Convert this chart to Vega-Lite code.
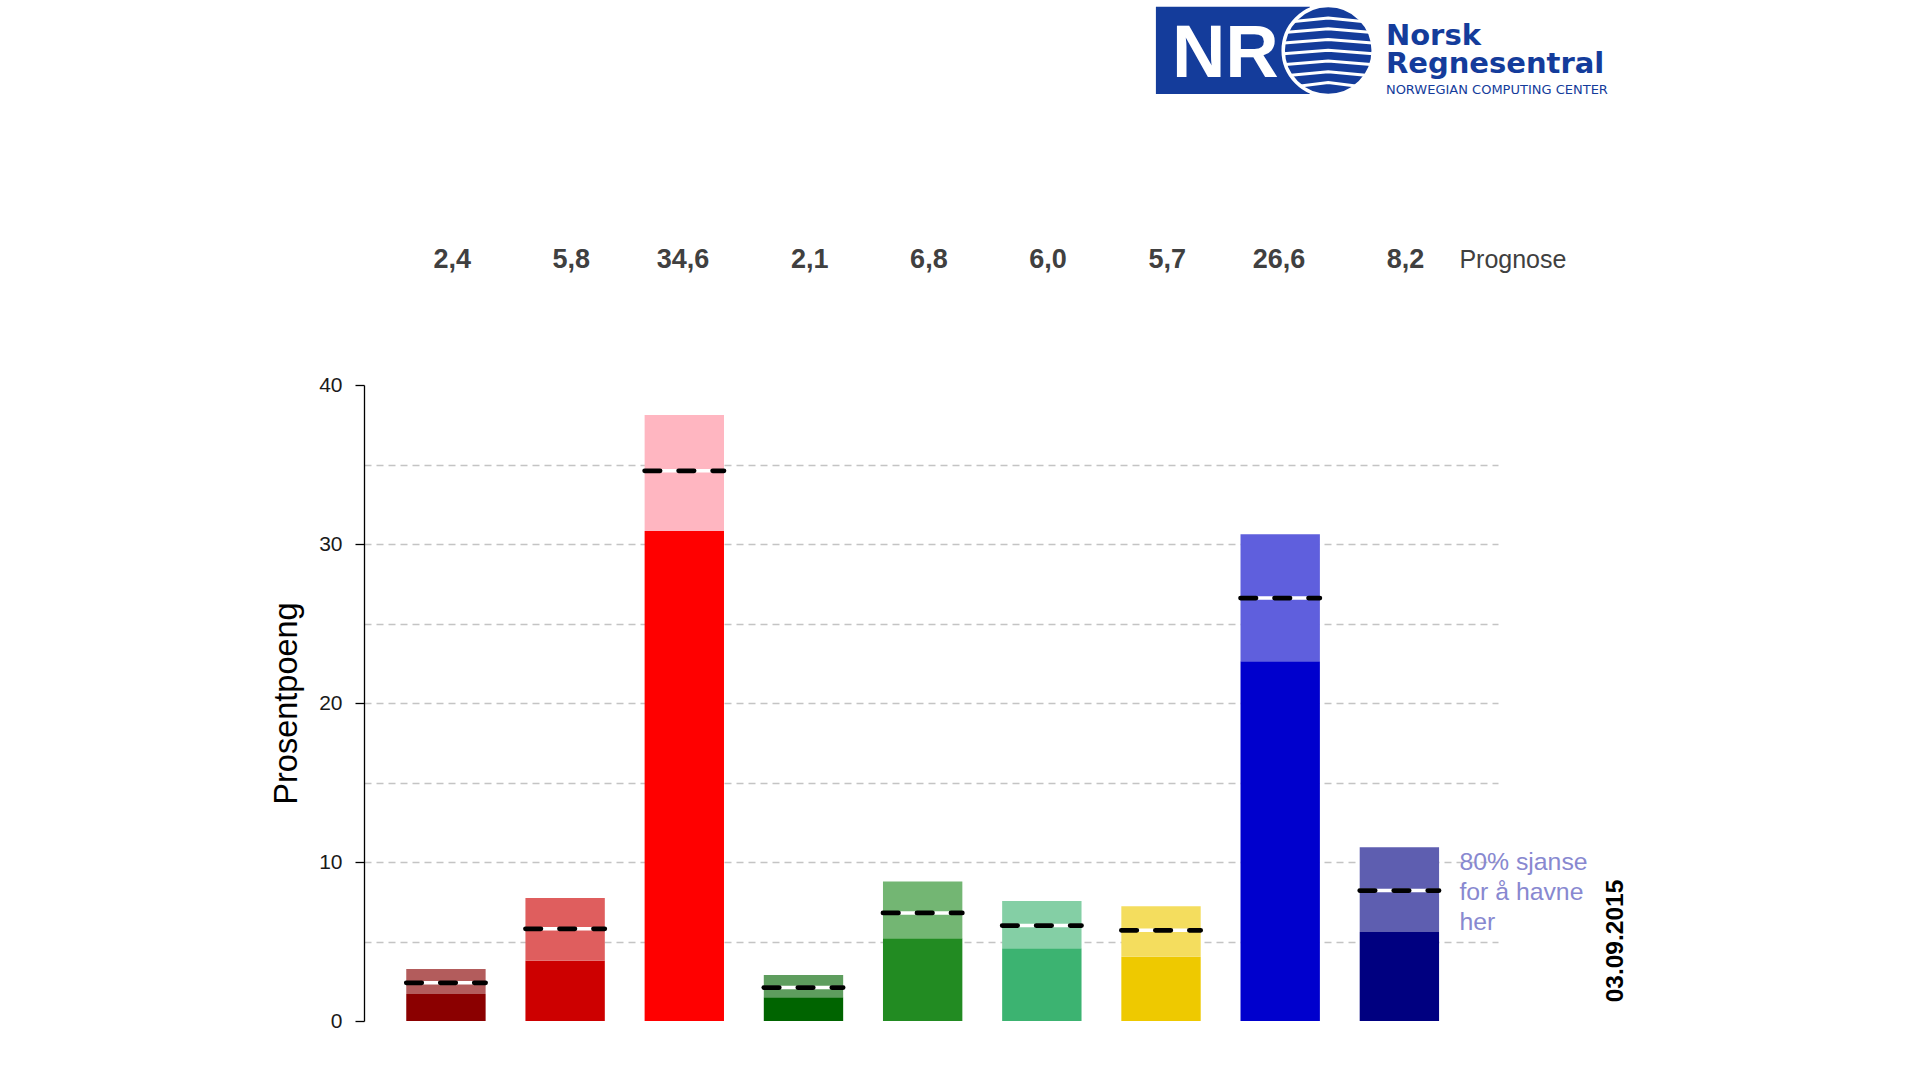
{
  "$schema": "https://vega.github.io/schema/vega-lite/v6.json",
  "usermeta": {"embedOptions": {"actions": false}},
  "width": 1134,
  "height": 636,
  "autosize": {"type": "none"},
  "padding": {"left": 364, "top": 385, "right": 422, "bottom": 59},
  "background": "white",
  "config": {"view": {"stroke": null}, "font": "Liberation Sans"},
  "data": {"values": [
    {"party": "R", "lo": 1.70, "hi": 3.27, "prog": 2.4, "label": "2,4"},
    {"party": "SV", "lo": 3.79, "hi": 7.74, "prog": 5.8, "label": "5,8"},
    {"party": "Ap", "lo": 30.82, "hi": 38.11, "prog": 34.6, "label": "34,6"},
    {"party": "Sp", "lo": 1.49, "hi": 2.89, "prog": 2.1, "label": "2,1"},
    {"party": "MDG", "lo": 5.20, "hi": 8.78, "prog": 6.8, "label": "6,8"},
    {"party": "V", "lo": 4.57, "hi": 7.55, "prog": 6.0, "label": "6,0"},
    {"party": "KrF", "lo": 4.04, "hi": 7.21, "prog": 5.7, "label": "5,7"},
    {"party": "H", "lo": 22.62, "hi": 30.61, "prog": 26.6, "label": "26,6"},
    {"party": "FrP", "lo": 5.60, "hi": 10.92, "prog": 8.2, "label": "8,2"}
  ]},
  "resolve": {"scale": {"color": "independent"}, "axis": {"y": "independent"}},
  "layer": [
    {
      "mark": {"type": "bar"},
      "encoding": {
        "x": {"field": "party", "type": "nominal", "sort": null,
          "scale": {"domain": ["R", "SV", "Ap", "Sp", "MDG", "V", "KrF", "H", "FrP"], "paddingInner": 0.334, "paddingOuter": 0.4245, "align": 0.4176},
          "axis": {"title": null, "domain": false, "ticks": false, "tickSize": 0, "labelAngle": 0, "labelFontSize": 22, "labelColor": "#1a1a1a", "labelPadding": 12, "labelFont": "Liberation Sans"}},
        "y": {"field": "lo", "type": "quantitative", "stack": null,
          "scale": {"domain": [0, 40], "nice": false, "zero": true},
          "axis": {"orient": "left", "values": [0, 10, 20, 30, 40], "grid": false, "domainColor": "#000000", "domainWidth": 1.3, "tickColor": "#000000", "tickWidth": 1.3, "tickSize": 9, "labelFontSize": 21, "labelColor": "#1a1a1a", "labelPadding": 13, "labelFont": "Liberation Sans", "title": "Prosentpoeng", "titleFont": "Liberation Sans", "titleFontSize": 32.5, "titleFontWeight": "normal", "titleColor": "#000000", "titlePadding": 15}},
        "color": {"field": "party", "type": "nominal", "legend": null,
          "scale": {"domain": ["R", "SV", "Ap", "Sp", "MDG", "V", "KrF", "H", "FrP"], "range": ["#8B0000", "#CD0000", "#FF0000", "#006400", "#228B22", "#3CB371", "#EEC900", "#0000CD", "#000080"]}}
      }
    },
    {
      "mark": {"type": "bar"},
      "encoding": {
        "x": {"field": "party", "type": "nominal", "sort": null, "axis": null},
        "y": {"field": "lo", "type": "quantitative", "stack": null,
          "axis": {"orient": "left", "values": [5, 10, 15, 20, 25, 30, 35], "grid": true, "gridDash": [7, 5], "gridColor": "#c4c4c4", "gridWidth": 1.3, "labels": false, "ticks": false, "domain": false, "title": null}},
        "y2": {"field": "hi"},
        "color": {"field": "party", "type": "nominal", "legend": null,
          "scale": {"domain": ["R", "SV", "Ap", "Sp", "MDG", "V", "KrF", "H", "FrP"], "range": ["#B35C5C", "#DF5E5E", "#FFB6C1", "#5E9D5E", "#73B673", "#84CFA5", "#F4DD5E", "#5F5FDD", "#5E5EB0"]}}
      }
    },
    {
      "mark": {"type": "rule", "color": "white", "strokeWidth": 3.5, "strokeCap": "butt"},
      "encoding": {
        "x": {"field": "party", "type": "nominal", "sort": null, "bandPosition": 0, "axis": null},
        "x2": {"field": "party", "bandPosition": 1},
        "y": {"field": "prog", "type": "quantitative", "axis": null}
      }
    },
    {
      "mark": {"type": "rule", "color": "black", "strokeWidth": 4.7, "strokeDash": [15.5, 18.5], "strokeCap": "round"},
      "encoding": {
        "x": {"field": "party", "type": "nominal", "sort": null, "bandPosition": 0, "axis": null},
        "x2": {"field": "party", "bandPosition": 1},
        "y": {"field": "prog", "type": "quantitative", "axis": null}
      }
    },
    {
      "mark": {"type": "text", "font": "Liberation Sans", "fontWeight": "bold", "fontSize": 27, "color": "#404040", "align": "right", "baseline": "alphabetic", "dx": 25},
      "encoding": {
        "x": {"field": "party", "type": "nominal", "sort": null, "axis": null},
        "y": {"datum": 47.38, "type": "quantitative", "axis": null},
        "text": {"field": "label"}
      }
    },
    {
      "data": {"values": [{"t": "Prognose"}]},
      "mark": {"type": "text", "font": "Liberation Sans", "fontSize": 25, "color": "#404040", "align": "left", "baseline": "alphabetic", "dx": 60},
      "encoding": {
        "x": {"datum": "FrP", "type": "nominal", "axis": null},
        "y": {"datum": 47.38, "type": "quantitative", "axis": null},
        "text": {"field": "t"}
      }
    },
    {
      "data": {"values": [{"t": ["80% sjanse", "for å havne", "her"]}]},
      "mark": {"type": "text", "font": "Liberation Sans", "fontSize": 24.8, "color": "#8888D0", "align": "left", "baseline": "alphabetic", "dx": 60, "lineHeight": 30},
      "encoding": {
        "x": {"datum": "FrP", "type": "nominal", "axis": null},
        "y": {"datum": 9.5, "type": "quantitative", "axis": null},
        "text": {"field": "t"}
      }
    },
    {
      "data": {"values": [{"t": "03.09.2015"}]},
      "mark": {"type": "text", "font": "Liberation Sans", "fontSize": 24.5, "fontWeight": "bold", "color": "#000000", "align": "center", "baseline": "alphabetic", "angle": 270, "dy": 223.6},
      "encoding": {
        "x": {"datum": "FrP", "type": "nominal", "axis": null},
        "y": {"datum": 5.03, "type": "quantitative", "axis": null},
        "text": {"field": "t"}
      }
    },
    {
      "data": {"values": [{"t": "logo"}]},
      "mark": {"type": "point", "shape": "M-1.243,-0.438H0.297V0.435H-1.243Z", "filled": true, "color": "#143c9b", "opacity": 1, "size": 40000, "strokeWidth": 0},
      "encoding": {
        "x": {"datum": "H", "type": "nominal", "axis": null},
        "y": {"datum": 61.04, "type": "quantitative", "axis": null}
      }
    },
    {
      "data": {"values": [{"t": "logo"}]},
      "mark": {"type": "point", "shape": "M0.03,0A0.45,0.45,0,1,0,0.93,0A0.45,0.45,0,1,0,0.03,0Z", "filled": true, "color": "#143c9b", "stroke": "white", "strokeWidth": 3.5, "opacity": 1, "size": 40000},
      "encoding": {
        "x": {"datum": "H", "type": "nominal", "axis": null},
        "y": {"datum": 61.04, "type": "quantitative", "axis": null}
      }
    },
    {
      "data": {"values": [{"t": "logo"}]},
      "mark": {"type": "point", "shape": "M0.136,-0.29L0.48,-0.325L0.824,-0.29M0.069,-0.183L0.48,-0.218L0.891,-0.183M0.036,-0.075L0.48,-0.11L0.924,-0.075M0.031,0.033L0.48,-0.002L0.929,0.033M0.052,0.14L0.48,0.105L0.908,0.14M0.105,0.248L0.48,0.213L0.855,0.248M0.203,0.355L0.48,0.32L0.757,0.355", "filled": false, "color": "white", "strokeWidth": 3, "opacity": 1, "size": 40000},
      "encoding": {
        "x": {"datum": "H", "type": "nominal", "axis": null},
        "y": {"datum": 61.04, "type": "quantitative", "axis": null}
      }
    },
    {
      "data": {"values": [{"t": "NR"}]},
      "mark": {"type": "text", "font": "Liberation Sans", "fontSize": 74, "fontWeight": "bold", "color": "white", "align": "left", "baseline": "alphabetic", "dx": -108.3, "dy": 26.2},
      "encoding": {
        "x": {"datum": "H", "type": "nominal", "axis": null},
        "y": {"datum": 61.04, "type": "quantitative", "axis": null},
        "text": {"field": "t"}
      }
    },
    {
      "data": {"values": [{"t": ["Norsk", "Regnesentral"]}]},
      "mark": {"type": "text", "font": "DejaVu Sans", "fontSize": 29, "fontWeight": "bold", "color": "#143c9b", "align": "left", "baseline": "alphabetic", "dx": 105.7, "dy": -5.5, "lineHeight": 27.7},
      "encoding": {
        "x": {"datum": "H", "type": "nominal", "axis": null},
        "y": {"datum": 61.04, "type": "quantitative", "axis": null},
        "text": {"field": "t"}
      }
    },
    {
      "data": {"values": [{"t": "NORWEGIAN COMPUTING CENTER"}]},
      "mark": {"type": "text", "font": "DejaVu Sans", "fontSize": 13, "color": "#143c9b", "align": "left", "baseline": "alphabetic", "dx": 105.7, "dy": 43.5},
      "encoding": {
        "x": {"datum": "H", "type": "nominal", "axis": null},
        "y": {"datum": 61.04, "type": "quantitative", "axis": null},
        "text": {"field": "t"}
      }
    }
  ]
}
